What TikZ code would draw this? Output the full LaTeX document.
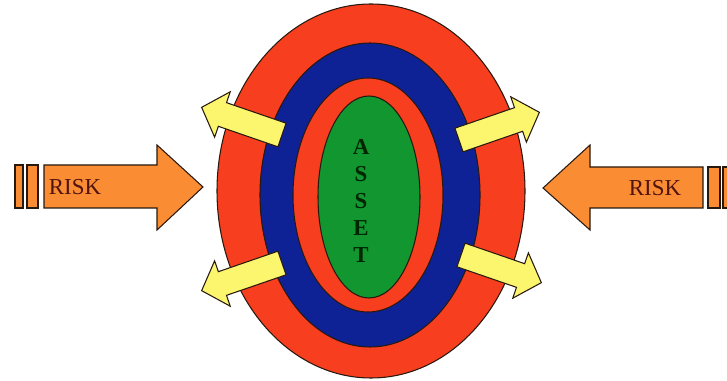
\documentclass[tikz,border=0pt]{standalone}
\usepackage{fontspec}
\setmainfont{Liberation Serif}
\usetikzlibrary{calc}

\definecolor{ringred}{RGB}{247,62,30}
\definecolor{ringblue}{RGB}{14,34,150}
\definecolor{assetgreen}{RGB}{18,150,48}
\definecolor{outyellow}{RGB}{252,245,110}
\definecolor{riskorange}{RGB}{250,140,52}
\definecolor{risktext}{RGB}{80,20,15}
\definecolor{edge}{RGB}{40,25,15}

\tikzset{
  ring/.style={draw=edge, line width=0.6pt},
  riskbox/.style={draw=edge, line width=0.6pt, fill=riskorange},
  risklabel/.style={text=risktext, font=\fontsize{13}{15}\selectfont},
}

% yellow arrow pointing out of the rings: #1,#2 = tail, #3 = angle
\newcommand{\outarrow}[3]{%
  \begin{scope}[shift={(#1,#2)}, rotate=#3]
    \draw[draw=edge, line width=0.6pt, fill=outyellow]
      (0,-12.5) -- (63,-12.5) -- (63,-24) -- (85,0) -- (63,24) -- (63,12.5) -- (0,12.5) -- cycle;
  \end{scope}}

\begin{document}
\begin{tikzpicture}[x=0.02cm, y=-0.02cm]
\useasboundingbox (0,0) rectangle (727,381);

% rings
\draw[ring, fill=ringred] (371,191) ellipse [x radius=154, y radius=187];
\draw[ring, fill=ringblue] (370,195) ellipse [x radius=110, y radius=152];
\draw[ring, fill=ringred] (368,195) ellipse [x radius=75, y radius=117];
\draw[ring, fill=assetgreen] (369,197) ellipse [x radius=51, y radius=101];
\node[font=\bfseries\fontsize{13}{15.4}\selectfont, text=black!85!green, align=center] (asset) at (361,201) {A\\S\\S\\E\\T};

% yellow arrows
\outarrow{282}{135}{161}
\outarrow{282}{263}{199}
\outarrow{459}{140}{19}
\outarrow{461}{255}{-19}

% risk from the left
\draw[riskbox] (15,165) rectangle (23,208) (27,165) rectangle (38,208);
\draw[riskbox] (44,165) -- (157,165) -- (157,145) -- (203,187) -- (157,230) -- (157,208) -- (44,208) -- cycle;
\node[risklabel] (riskleft) at (75,187) {RISK};

% risk from the right
\draw[riskbox] (708,167) rectangle (720,208) (723,167) rectangle (735,208);
\draw[riskbox] (703,167) -- (590,167) -- (590,145) -- (543,188) -- (590,230) -- (590,208) -- (703,208) -- cycle;
\node[risklabel] (riskright) at (655,188) {RISK};
\end{tikzpicture}
\end{document}
